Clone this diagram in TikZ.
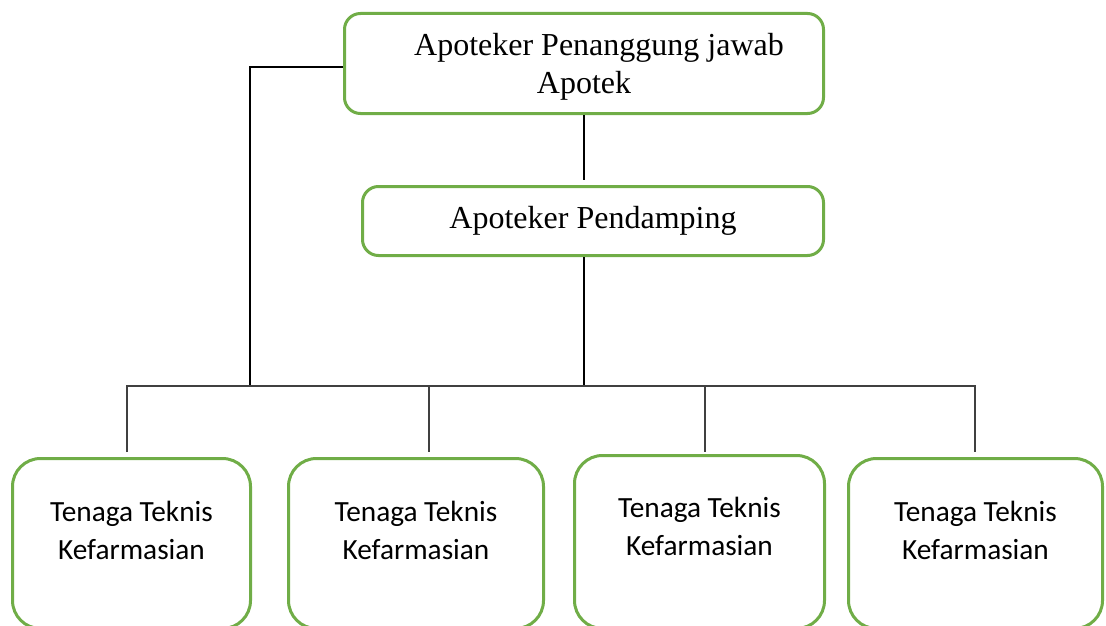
\documentclass[tikz,border=0pt]{standalone}
\usepackage{fontspec}
\setmainfont{Liberation Serif}
\newfontfamily\calfont{Carlito}
\definecolor{boxgreen}{HTML}{70AD47}
\definecolor{busgrey}{HTML}{404040}
\newcommand{\lowpad}[1]{\rule[-#1pt]{0pt}{0pt}}
\newcommand{\highpad}[1]{\rule{0pt}{#1pt}}
\begin{document}
\begin{tikzpicture}[x=1pt,y=-1pt,
  topbox/.style={draw=boxgreen, line width=3pt, rounded corners=16pt, inner sep=0pt, align=center,
    font=\fontsize{32}{37.7}\selectfont},
  staffbox/.style={draw=boxgreen, line width=3pt, rounded corners=28pt, inner sep=0pt, align=center,
    minimum height=170pt, font=\calfont\fontsize{29.3}{37.5}\selectfont},
  blackline/.style={draw=black, line width=1.2pt},
  busline/.style={draw=busgrey, line width=1.5pt}]
\useasboundingbox (0,0) rectangle (1106,626);
\clip (0,0) rectangle (1106,626);

\node[topbox, minimum width=479pt, minimum height=100pt] (apa) at (584,63.5)
  {\highpad{29}\hspace*{30pt}Apoteker Penanggung jawab\\Apotek};
\node[topbox, minimum width=461pt, minimum height=69pt] (pend) at (593,221)
  {Apoteker Pendamping};

\node[staffbox, minimum width=238pt] (t1) at (131.5,543.5) {Tenaga Teknis\\Kefarmasian\lowpad{26}};
\node[staffbox, minimum width=255pt] (t2) at (416,543.5) {Tenaga Teknis\\Kefarmasian\lowpad{26}};
\node[staffbox, minimum width=250pt, minimum height=173pt] (t3) at (699.5,542) {Tenaga Teknis\\Kefarmasian\lowpad{31}};
\node[staffbox, minimum width=254pt] (t4) at (975.5,543.5) {Tenaga Teknis\\Kefarmasian\lowpad{26}};

\coordinate (gap) at (584,180);
\coordinate (hub) at (584,386);
\coordinate (lcorner) at (250,67);
\coordinate (lhub) at (250,386);
\coordinate (busL) at (127,386);
\coordinate (busR) at (975,386);
\coordinate (d1) at (127,452);
\coordinate (d2) at (429,386);
\coordinate (d2e) at (429,452);
\coordinate (d3) at (705,386);
\coordinate (d3e) at (705,452);
\coordinate (d4e) at (975,452);

\draw[blackline] (apa.south) -- (gap);
\draw[blackline] (pend.south -| hub) -- (hub);
\draw[blackline] ([yshift=-3.5pt]apa.west) -- (lcorner) -- (lhub);
\draw[busline] (d1) -- (busL) -- (busR) -- (d4e);
\draw[busline] (d2) -- (d2e);
\draw[busline] (d3) -- (d3e);
\end{tikzpicture}
\end{document}
